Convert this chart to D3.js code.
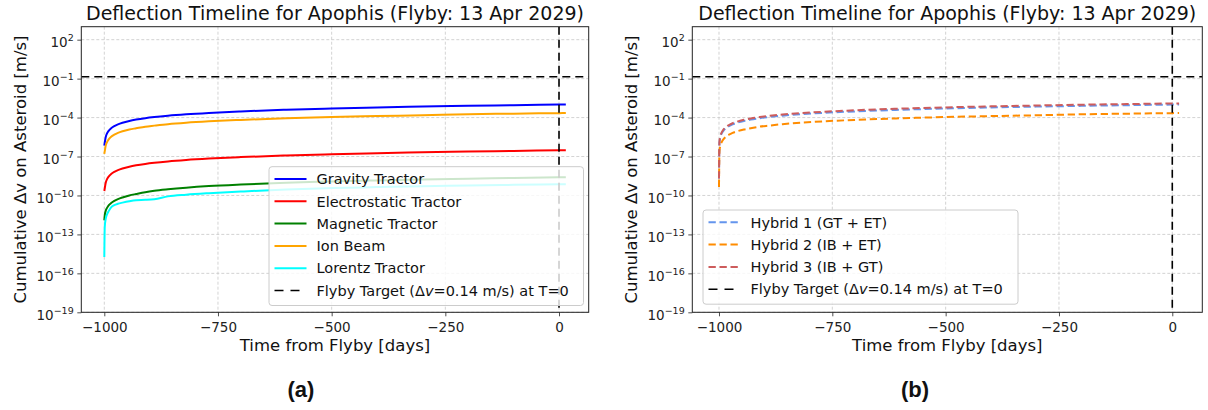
<!DOCTYPE html>
<html>
<head>
<meta charset="utf-8">
<script src="https://cdn.jsdelivr.net/npm/d3@7"></script>
<style>
  body { margin: 0; background: #fff; }
  svg { display: block; font-family: "DejaVu Sans", sans-serif; }
</style>
</head>
<body>
<div id="chart"></div>
<script>
// values (days from flyby, cumulative dv in m/s)
var days = [-1000, -999, -997, -994, -990, -985, -978, -970, -960, -945, -930, -910, -890, -860, -820, -770, -700, -600, -500, -400, -300, -200, -100, 0, 15];

var gravityTractor = [7e-7, 1.2e-6, 3.0e-6, 6.0e-6, 1.0e-5, 1.5e-5, 2.2e-5, 3.0e-5, 4.0e-5, 5.5e-5, 7.0e-5, 9.0e-5, 1.1e-4, 1.4e-4, 1.8e-4, 2.3e-4, 3.0e-4, 4.0e-4, 5.0e-4, 6.0e-4, 7.0e-4, 8.0e-4, 9.0e-4, 1.0e-3, 1.015e-3];
var electrostaticTractor = [2.2e-10, 3.6e-10, 9.0e-10, 1.8e-9, 3.0e-9, 4.5e-9, 6.6e-9, 9.0e-9, 1.2e-8, 1.65e-8, 2.1e-8, 2.7e-8, 3.3e-8, 4.2e-8, 5.4e-8, 6.9e-8, 9.0e-8, 1.2e-7, 1.5e-7, 1.8e-7, 2.1e-7, 2.4e-7, 2.7e-7, 3.0e-7, 3.05e-7];
var magneticTractor = [1.2e-12, 3.0e-12, 6.5e-12, 1.1e-11, 1.8e-11, 2.6e-11, 3.8e-11, 5.2e-11, 7.0e-11, 1.0e-10, 1.3e-10, 1.8e-10, 2.3e-10, 3.0e-10, 4.0e-10, 5.3e-10, 7.0e-10, 9.5e-10, 1.2e-9, 1.45e-9, 1.7e-9, 1.95e-9, 2.2e-9, 2.5e-9, 2.54e-9];
var ionBeam = [1.6e-7, 2.6e-7, 6.6e-7, 1.3e-6, 2.2e-6, 3.3e-6, 4.8e-6, 6.6e-6, 8.8e-6, 1.2e-5, 1.5e-5, 2.0e-5, 2.4e-5, 3.1e-5, 4.0e-5, 5.1e-5, 6.6e-5, 8.8e-5, 1.1e-4, 1.3e-4, 1.5e-4, 1.8e-4, 2.0e-4, 2.2e-4, 2.23e-4];
var lorentzTractor = [1.8e-15, 4.0e-13, 1.5e-12, 3.5e-12, 6.5e-12, 1.2e-11, 1.8e-11, 2.3e-11, 2.8e-11, 3.6e-11, 4.3e-11, 4.6e-11, 5.2e-11, 8.5e-11, 1.15e-10, 1.5e-10, 2.0e-10, 2.9e-10, 3.7e-10, 4.4e-10, 5.1e-10, 5.8e-10, 6.6e-10, 7.3e-10, 7.4e-10];

var hybrid1 = [2.0e-9, 1.2e-6, 3.0e-6, 6.0e-6, 1.0e-5, 1.5e-5, 2.2e-5, 3.0e-5, 4.0e-5, 5.5e-5, 7.0e-5, 9.0e-5, 1.1e-4, 1.4e-4, 1.8e-4, 2.3e-4, 3.0e-4, 4.0e-4, 5.0e-4, 6.0e-4, 7.0e-4, 8.0e-4, 9.0e-4, 1.0e-3, 1.015e-3];
var hybrid2 = [4.5e-10, 2.6e-7, 6.6e-7, 1.3e-6, 2.2e-6, 3.3e-6, 4.8e-6, 6.6e-6, 8.8e-6, 1.2e-5, 1.5e-5, 2.0e-5, 2.4e-5, 3.1e-5, 4.0e-5, 5.1e-5, 6.6e-5, 8.8e-5, 1.1e-4, 1.3e-4, 1.5e-4, 1.8e-4, 2.0e-4, 2.2e-4, 2.23e-4];
var hybrid3 = [2.0e-9, 1.46e-6, 3.66e-6, 7.3e-6, 1.22e-5, 1.83e-5, 2.68e-5, 3.66e-5, 4.88e-5, 6.7e-5, 8.5e-5, 1.1e-4, 1.34e-4, 1.71e-4, 2.2e-4, 2.8e-4, 3.66e-4, 4.88e-4, 6.1e-4, 7.3e-4, 8.5e-4, 9.8e-4, 1.1e-3, 1.22e-3, 1.24e-3];

var flybyDv = 0.14;
var flybyDay = 0;
var xTicks = [-1000, -750, -500, -250, 0];
var yTickExps = [2, -1, -4, -7, -10, -13, -16, -19];
var yLimits = [1e-19, 1e3];

var titleText = "Deflection Timeline for Apophis (Flyby: 13 Apr 2029)";
var xLabelText = "Time from Flyby [days]";
var yLabelText = "Cumulative \u0394v on Asteroid [m/s]";

var leftSeries = [
  {name: "Gravity Tractor", values: gravityTractor, color: "blue"},
  {name: "Electrostatic Tractor", values: electrostaticTractor, color: "red"},
  {name: "Magnetic Tractor", values: magneticTractor, color: "green"},
  {name: "Ion Beam", values: ionBeam, color: "orange"},
  {name: "Lorentz Tractor", values: lorentzTractor, color: "cyan"}
];
var rightSeries = [
  {name: "Hybrid 1 (GT + ET)", values: hybrid1, color: "cornflowerblue"},
  {name: "Hybrid 2 (IB + ET)", values: hybrid2, color: "darkorange"},
  {name: "Hybrid 3 (IB + GT)", values: hybrid3, color: "indianred"}
];

var svg = d3.select("#chart").append("svg")
    .attr("width", 1208)
    .attr("height", 410);

var plotTop = 26.7, plotBottom = 312.3;

var drawPanel = function(p){
  var g = svg.append("g");
  var x = d3.scaleLinear().domain(p.xlim).range([p.left, p.right]);
  var y = d3.scaleLog().domain(yLimits).range([plotBottom, plotTop]);

  svg.append("clipPath").attr("id", "clip" + p.id)
    .append("rect")
      .attr("x", p.left).attr("y", plotTop)
      .attr("width", p.right - p.left).attr("height", plotBottom - plotTop);

  // grid
  g.selectAll(".gridx").data(xTicks).enter().append("line")
    .attr("x1", function(d){return x(d);}).attr("x2", function(d){return x(d);})
    .attr("y1", plotTop).attr("y2", plotBottom)
    .attr("stroke", "#c8c8c8").attr("stroke-width", 0.8).attr("stroke-dasharray", "3,2");
  g.selectAll(".gridy").data(yTickExps).enter().append("line")
    .attr("x1", p.left).attr("x2", p.right)
    .attr("y1", function(d){return y(Math.pow(10, d));}).attr("y2", function(d){return y(Math.pow(10, d));})
    .attr("stroke", "#c8c8c8").attr("stroke-width", 0.8).attr("stroke-dasharray", "3,2");

  var line = d3.line()
    .x(function(d){return x(d[0]);})
    .y(function(d){return y(d[1]);})
    .curve(d3.curveMonotoneX);

  var plot = g.append("g").attr("clip-path", "url(#clip" + p.id + ")");
  p.series.forEach(function(s){
    plot.append("path")
      .datum(days.map(function(d, i){return [d, s.values[i]];}))
      .attr("d", line)
      .attr("fill", "none")
      .attr("stroke", s.color)
      .attr("stroke-width", 2)
      .attr("stroke-dasharray", p.dashed ? "7.3,3.7" : null);
  });

  // flyby target lines
  plot.append("line")
    .attr("x1", p.left).attr("x2", p.right)
    .attr("y1", y(flybyDv)).attr("y2", y(flybyDv))
    .attr("stroke", "black").attr("stroke-width", 1.6).attr("stroke-dasharray", "8,5");
  plot.append("line")
    .attr("x1", x(flybyDay)).attr("x2", x(flybyDay))
    .attr("y1", plotTop).attr("y2", plotBottom)
    .attr("stroke", "black").attr("stroke-width", 1.6).attr("stroke-dasharray", "8,5");

  // x axis
  var xAxis = g.append("g")
    .attr("transform", "translate(0," + plotBottom + ")")
    .call(d3.axisBottom(x).tickValues(xTicks).tickSize(4).tickSizeOuter(0).tickPadding(5.8)
      .tickFormat(function(d){return d < 0 ? "\u2212" + Math.abs(d) : d;}));
  xAxis.select(".domain").remove();
  xAxis.attr("font-family", null).attr("font-size", null);
  xAxis.selectAll("text").attr("font-size", 13.5).attr("fill", "#222");
  xAxis.selectAll("line").attr("stroke", "#222").attr("stroke-width", 0.8);

  // y axis (labels written as 10 with superscript)
  var yAxis = g.append("g")
    .attr("transform", "translate(" + p.left + ",0)")
    .call(d3.axisLeft(y).tickValues(yTickExps.map(function(e){return Math.pow(10, e);}))
      .tickSize(4).tickSizeOuter(0).tickFormat(""));
  yAxis.select(".domain").remove();
  yAxis.selectAll("line").attr("stroke", "#222").attr("stroke-width", 0.8);

  var yLab = g.selectAll(".ylab").data(yTickExps).enter().append("text")
    .attr("x", p.left - 7.6)
    .attr("y", function(d){return y(Math.pow(10, d)) + 7.3;})
    .attr("text-anchor", "end")
    .attr("font-size", 13.5)
    .attr("fill", "#222");
  yLab.append("tspan").text("10");
  yLab.append("tspan")
    .attr("dy", -5.8)
    .attr("font-size", 9.5)
    .text(function(d){return d < 0 ? "\u2212" + Math.abs(d) : d;});

  // frame
  g.append("rect")
    .attr("x", p.left).attr("y", plotTop)
    .attr("width", p.right - p.left).attr("height", plotBottom - plotTop)
    .attr("fill", "none").attr("stroke", "#222").attr("stroke-width", 1);

  // titles
  var cx = (p.left + p.right) / 2;
  g.append("text").attr("x", cx).attr("y", 20)
    .attr("text-anchor", "middle").attr("font-size", 19).attr("fill", "#111")
    .text(titleText);
  g.append("text").attr("x", cx).attr("y", 350.5)
    .attr("text-anchor", "middle").attr("font-size", 16.5).attr("fill", "#111")
    .text(xLabelText);
  g.append("text")
    .attr("transform", "translate(" + (p.left - 55) + "," + ((plotTop + plotBottom) / 2) + ") rotate(-90)")
    .attr("text-anchor", "middle").attr("font-size", 16.5).attr("fill", "#111")
    .text(yLabelText);

  // legend
  var entries = p.series.map(function(s){
    return {name: s.name, color: s.color, dash: p.dashed ? "7.3,3.7" : null, width: 2};
  });
  entries.push({name: "flyby", color: "black", dash: "9,7", width: 1.6});

  var rowH = 22.3;
  var lg = g.append("g");
  lg.append("rect")
    .attr("x", p.legend.x).attr("y", p.legend.y)
    .attr("width", p.legend.w).attr("height", entries.length * rowH + 5)
    .attr("rx", 3)
    .attr("fill", "white").attr("fill-opacity", 0.8)
    .attr("stroke", "#cccccc").attr("stroke-width", 1);

  entries.forEach(function(e, i){
    var ry = p.legend.y + 12.3 + i * rowH;
    lg.append("line")
      .attr("x1", p.legend.x + 5.5).attr("x2", p.legend.x + 37.5)
      .attr("y1", ry).attr("y2", ry)
      .attr("stroke", e.color).attr("stroke-width", e.width)
      .attr("stroke-dasharray", e.dash);
    var t = lg.append("text")
      .attr("x", p.legend.x + 47.5).attr("y", ry + 5.2)
      .attr("font-size", 14.5).attr("fill", "#111");
    if (e.name === "flyby") {
      t.append("tspan").text("Flyby Target (\u0394");
      t.append("tspan").attr("font-style", "italic").text("v");
      t.append("tspan").text("=" + flybyDv + " m/s) at T=" + flybyDay);
    } else {
      t.text(e.name);
    }
  });

  // panel tag
  svg.append("text").attr("x", p.tag.x).attr("y", 397)
    .attr("text-anchor", "middle")
    .attr("font-family", "'Liberation Sans', Arial, sans-serif")
    .attr("font-weight", "bold").attr("font-size", 22).attr("fill", "#111")
    .text(p.tag.text);
};

drawPanel({
  id: "a", left: 81.3, right: 588.7, xlim: [-1050.6, 65.3],
  series: leftSeries, dashed: false,
  legend: {x: 269, y: 166.7, w: 314.5},
  tag: {x: 301, text: "(a)"}
});

drawPanel({
  id: "b", left: 692.3, right: 1202.3, xlim: [-1058.9, 66.2],
  series: rightSeries, dashed: true,
  legend: {x: 703, y: 210, w: 315},
  tag: {x: 915, text: "(b)"}
});
</script>
</body>
</html>
